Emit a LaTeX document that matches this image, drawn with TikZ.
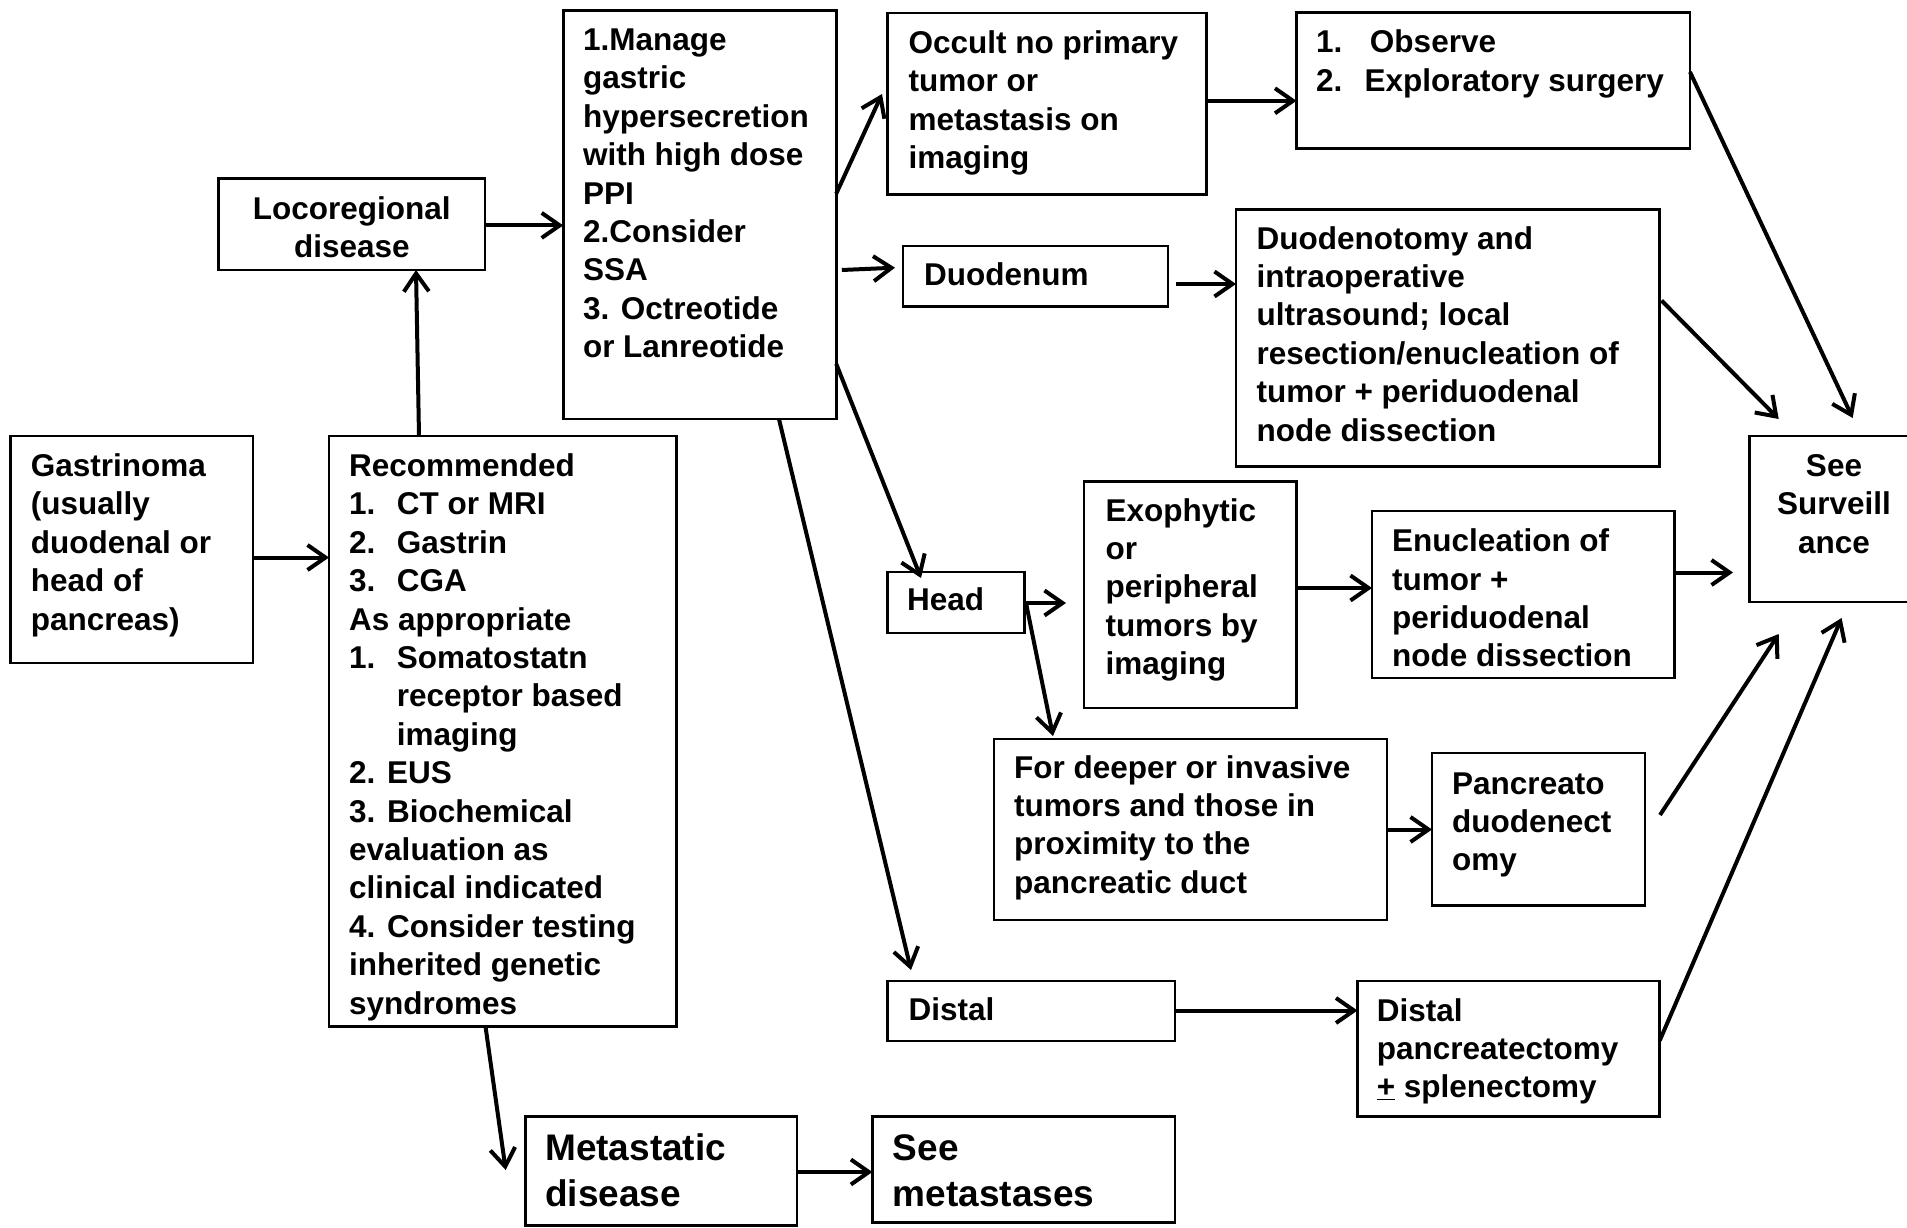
\documentclass[tikz,border=0pt]{standalone}
\usepackage{fontspec}
\setmainfont{Liberation Sans}
\usetikzlibrary{arrows.meta,calc}

\begin{document}
\begin{tikzpicture}[x=1pt,y=-1pt,
  box/.style={draw=black, line width=2.7pt, rectangle, anchor=north west,
    inner sep=0pt, outer sep=0pt},
  txt/.style={anchor=base west, inner sep=0pt,
    font=\fontsize{31.5}{38.4}\selectfont\bfseries},
  ctxt/.style={txt, anchor=base},
  bigtxt/.style={txt, font=\fontsize{37}{46}\selectfont\bfseries},
  arr/.style={line width=4pt, -{Straight Barb[length=18pt,width=25pt]}},
]
\useasboundingbox (0,0) rectangle (1907,1228);
\fill[white] (0,0) rectangle (1907,1228);
\clip (0,0) rectangle (1907,1228);

% ---- boxes -------------------------------------------------------------
\node[box, minimum width=242.5pt, minimum height=227pt]   (gas)  at (10.5,436) {};
\node[box, minimum width=347.5pt, minimum height=590.5pt] (rec)  at (329,436) {};
\node[box, minimum width=266.5pt, minimum height=91.3pt]  (loc)  at (218.5,178.7) {};
\node[box, minimum width=273pt,   minimum height=408.4pt] (man)  at (563.2,10.7) {};
\node[box, minimum width=318.7pt, minimum height=181.5pt] (occ)  at (887.7,13) {};
\node[box, minimum width=393.5pt, minimum height=136.4pt] (obs)  at (1296.5,12.3) {};
\node[box, minimum width=265pt,   minimum height=60.8pt]  (duo)  at (903,246) {};
\node[box, minimum width=423.7pt, minimum height=257pt]   (dtm)  at (1236,209.6) {};
\node[box, minimum width=172pt,   minimum height=166pt]   (sur)  at (1749.7,436) {};
\node[box, minimum width=136.8pt, minimum height=61pt]    (head) at (887.7,572) {};
\node[box, minimum width=212.5pt, minimum height=226.4pt] (exo)  at (1084,481.6) {};
\node[box, minimum width=302.5pt, minimum height=167pt]   (enu)  at (1372,511) {};
\node[box, minimum width=393pt,   minimum height=181pt]   (deep) at (994,739) {};
\node[box, minimum width=213pt,   minimum height=152.6pt] (pd)   at (1432,753) {};
\node[box, minimum width=287.3pt, minimum height=60pt]    (dis)  at (887.7,981) {};
\node[box, minimum width=302.2pt, minimum height=135.6pt] (dp)   at (1357.5,981) {};
\node[box, minimum width=271.7pt, minimum height=109pt]   (met)  at (525.3,1116.6) {};
\node[box, minimum width=302.6pt, minimum height=106.2pt] (smet) at (872.4,1116.6) {};

% ---- texts -------------------------------------------------------------
\node[txt] (gas-t) at ($(gas.north west)+(20.1,40.5)$)
  {\parbox[t]{600pt}{Gastrinoma\\(usually\\duodenal or\\head of\\pancreas)}};
\node[txt] (rec-t) at ($(rec.north west)+(20,40.5)$)
  {\parbox[t]{600pt}{Recommended\\
   \makebox[47.7pt][l]{1.}CT or MRI\\
   \makebox[47.7pt][l]{2.}Gastrin\\
   \makebox[47.7pt][l]{3.}CGA\\
   As appropriate\\
   \makebox[47.7pt][l]{1.}Somatostatn\\
   \hspace*{47.7pt}receptor based\\
   \hspace*{47.7pt}imaging\\
   2. EUS\\
   3. Biochemical\\
   evaluation as\\
   clinical indicated\\
   4. Consider testing\\
   inherited genetic\\
   syndromes}};
\node[ctxt] (loc-t) at ($(loc.north west)+(133.3,40.7)$)
  {\parbox[t]{600pt}{\centering Locoregional\\disease}};
\node[txt] (man-t) at ($(man.north west)+(19.6,39.9)$)
  {\parbox[t]{600pt}{1.Manage\\gastric\\hypersecretion\\with high dose\\PPI\\
   2.Consider\\SSA\\3. Octreotide\\or Lanreotide}};
\node[txt] (occ-t) at ($(occ.north west)+(20.8,40.5)$)
  {\parbox[t]{600pt}{Occult no primary\\tumor or\\metastasis on\\imaging}};
\node[txt] (obs-t) at ($(obs.north west)+(19.5,40.3)$)
  {\parbox[t]{600pt}{\makebox[53.8pt][l]{1.}Observe\\[0.6pt]
   \makebox[48.3pt][l]{2.}Exploratory surgery}};
\node[txt] (duo-t) at ($(duo.north west)+(21,39.5)$) {Duodenum};
\node[txt] (dtm-t) at ($(dtm.north west)+(20.4,39.4)$)
  {\parbox[t]{600pt}{Duodenotomy and\\intraoperative\\ultrasound; local\\
   resection/enucleation of\\tumor + periduodenal\\node dissection}};
\node[ctxt] (sur-t) at ($(sur.north west)+(84.3,40.5)$)
  {\parbox[t]{600pt}{\centering See\\Surveill\\ance}};
\node[txt] (head-t) at ($(head.north west)+(19.3,38)$) {Head};
\node[txt] (exo-t) at ($(exo.north west)+(21.3,39.4)$)
  {\parbox[t]{600pt}{Exophytic\\or\\peripheral\\tumors by\\imaging}};
\node[txt] (enu-t) at ($(enu.north west)+(20,40.6)$)
  {\parbox[t]{600pt}{Enucleation of\\tumor +\\periduodenal\\node dissection}};
\node[txt] (deep-t) at ($(deep.north west)+(20,39)$)
  {\parbox[t]{600pt}{For deeper or invasive\\tumors and those in\\
   proximity to the\\pancreatic duct}};
\node[txt] (pd-t) at ($(pd.north west)+(20,41)$)
  {\parbox[t]{600pt}{Pancreato\\duodenect\\omy}};
\node[txt] (dis-t) at ($(dis.north west)+(20.8,39.5)$) {Distal};
\node[txt] (dp-t) at ($(dp.north west)+(19.1,40)$)
  {\parbox[t]{600pt}{Distal\\pancreatectomy\\\underline{+} splenectomy}};
\node[bigtxt] (met-t) at ($(met.north west)+(19.7,44.1)$)
  {\parbox[t]{600pt}{Metastatic\\disease}};
\node[bigtxt] (smet-t) at ($(smet.north west)+(20.2,44.1)$)
  {\parbox[t]{600pt}{See\\metastases}};

% ---- connectors --------------------------------------------------------
\draw[arr] ($(gas.north west)+(242.5,121.5)$) -- ($(rec.north west)+(0,121.5)$);
\draw[arr] ($(rec.north west)+(90,0)$) -- ($(loc.north west)+(197.5,91.3)$);
\draw[arr] ($(loc.north west)+(266.5,46.7)$) -- ($(man.north west)+(0,214.7)$);
\draw[arr] ($(man.north west)+(273,183)$) -- ($(occ.north west)+(-5.7,81)$);
\draw[arr] ($(man.north west)+(278.6,259.3)$) -- ($(duo.north west)+(-8,21.7)$);
\draw[arr] ($(man.north west)+(273,353.1)$) -- ($(head.north west)+(33.3,6)$);
\draw[arr] ($(man.north west)+(215.8,408.4)$) -- ($(dis.north west)+(23.3,-11)$);
\draw[arr] ($(rec.north west)+(156.5,590.5)$) -- ($(met.north west)+(-19.6,53.4)$);
\draw[arr] ($(met.north west)+(271.7,55.4)$) -- ($(smet.north west)+(0,55.4)$);
\draw[arr] ($(occ.north west)+(318.7,87.8)$) -- ($(obs.north west)+(0,88.5)$);
\draw[arr] ($(duo.north west)+(273,38)$) -- ($(dtm.north west)+(0,74.4)$);
\draw[arr] ($(obs.north west)+(393.5,59.7)$) -- ($(sur.north west)+(103,-18)$);
\draw[arr] ($(dtm.north west)+(425.5,90.9)$) -- ($(sur.north west)+(29,-17)$);
\draw[arr] ($(enu.north west)+(302.5,61.5)$) -- ($(sur.north west)+(-16.7,136.5)$);
\draw[arr] ($(head.north west)+(136.8,31)$) -- ($(exo.north west)+(-18,121.4)$);
\draw[arr] ($(exo.north west)+(212.5,106.4)$) -- ($(enu.north west)+(0,77)$);
\draw[arr] ($(head.north west)+(138.3,31)$) -- ($(deep.north west)+(59,-3)$);
\draw[arr] ($(deep.north west)+(393,90.5)$) -- ($(pd.north west)+(0,76.5)$);
\draw[arr] ($(pd.north west)+(228,62)$) -- ($(sur.north west)+(29,198)$);
\draw[arr] ($(dis.north west)+(287.3,29.5)$) -- ($(dp.north west)+(0,29.5)$);
\draw[arr] ($(dp.north west)+(302.2,59.6)$) -- ($(sur.north west)+(91.9,182)$);
\end{tikzpicture}
\end{document}
